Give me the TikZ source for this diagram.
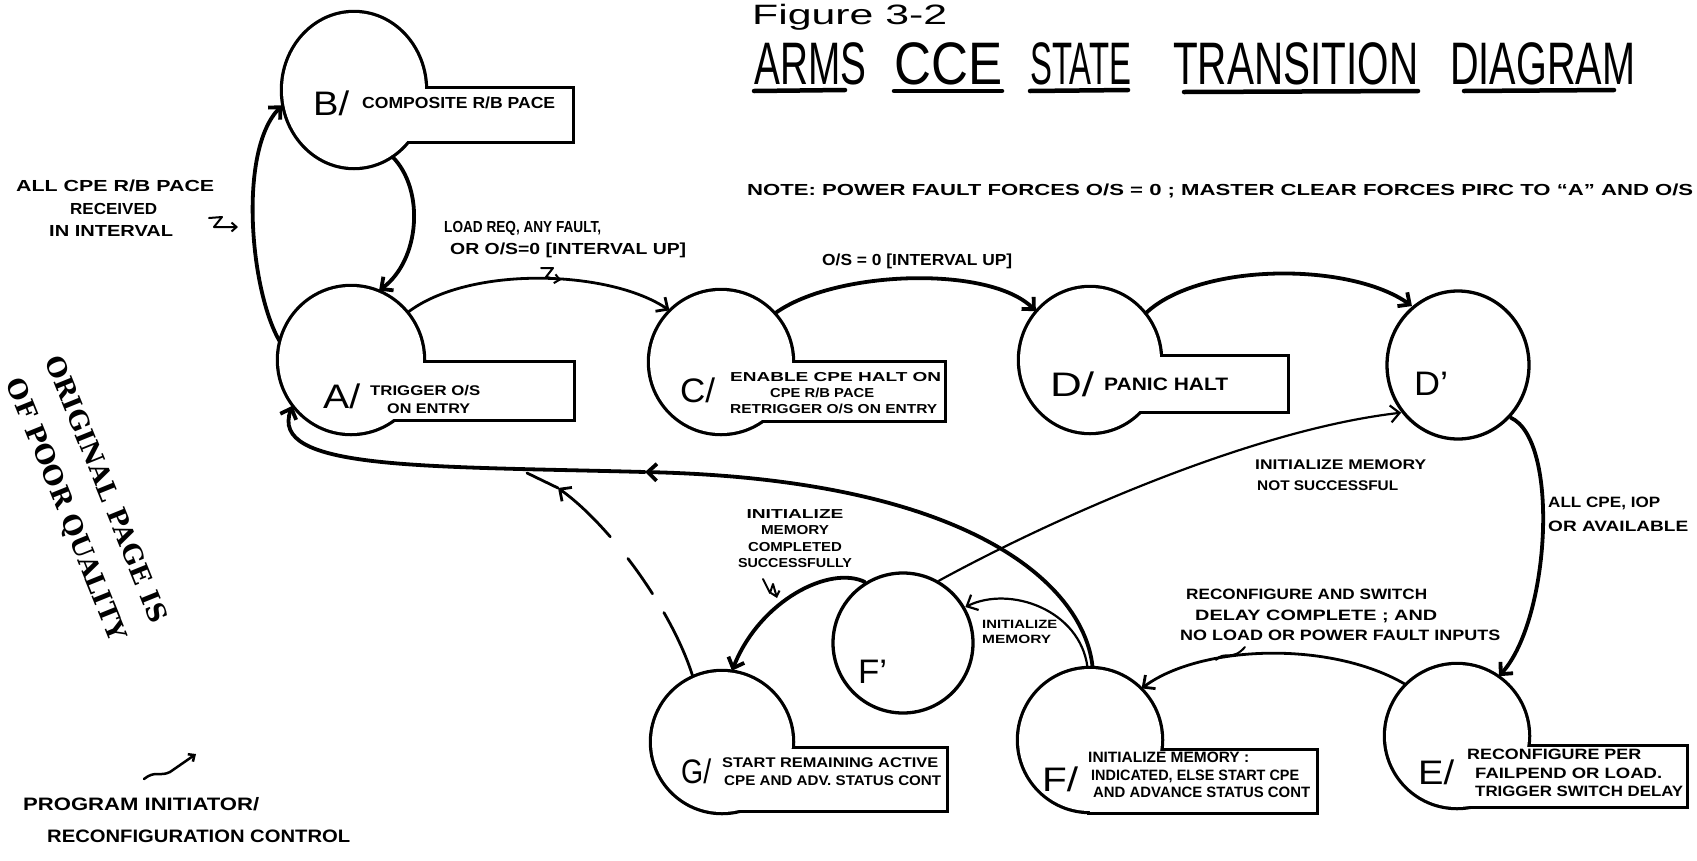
\documentclass[tikz,border=0pt]{standalone}
\usepackage{fontspec}
\setmainfont{Liberation Sans}
\newfontfamily\stampfont{DejaVu Serif}
\usetikzlibrary{arrows.meta,shapes.geometric}
\newcommand\fw[2]{\resizebox{#1pt}{\height}{#2}}
\newcommand\blob[8]{%
  \draw[outl] (#1,#2) ellipse[x radius=#3, y radius=#4];
  \draw[outl] (#5,#6) rectangle (#7,#8);
  \fill[white] (#1,#2) ellipse[x radius=#3, y radius=#4];
  \fill[white] (#5,#6) rectangle (#7,#8);}
\begin{document}
\begin{tikzpicture}[x=1pt,y=-1pt,
  st/.style={ellipse, draw=none, inner sep=0pt, outer sep=2pt},
  outl/.style={line width=6.5pt},
  arrowtip/.style={-{Straight Barb[length=9pt,width=17pt]}},
  c4/.style={line width=3.8pt, line cap=round, arrowtip},
  c3/.style={line width=2.8pt, line cap=round, arrowtip},
  c2/.style={line width=2.2pt, line cap=round, arrowtip},
  sq/.style={line width=2pt, line cap=round, line join=round, -{Straight Barb[length=5pt,width=9pt]}},
  lbl/.style={inner sep=0pt, align=left, anchor=north west},
  big/.style={inner sep=0pt, font=\fontsize{34}{34}\selectfont, anchor=west},
]
\fill[white] (0,0) rectangle (1697,860);
\useasboundingbox (0,0) rectangle (1697,860);

% ---- state shapes (circle + tab, union outline)
\blob{354}{90}{71}{77}{354}{89}{572}{141}
\blob{351}{360}{72}{73}{351}{363}{573}{419}
\blob{721}{362}{71}{71}{721}{363}{944}{420}
\blob{1090}{360}{70}{72}{1090}{357}{1287}{411}
\blob{1457}{736}{71}{71}{1457}{747}{1686}{806}
\blob{1090}{740}{71}{71}{1090}{751}{1316}{812}
\blob{722}{742}{70}{70}{722}{749}{946}{810}
\draw[line width=3.3pt] (1458,365) ellipse[x radius=71, y radius=74];
\draw[line width=3.3pt] (903,643) ellipse[x radius=70, y radius=70];

\node[st, minimum width=142pt, minimum height=154pt] (B) at (354,90) {};
\node[st, minimum width=144pt, minimum height=146pt] (A) at (351,360) {};
\node[st, minimum width=142pt, minimum height=142pt] (C) at (721,362) {};
\node[st, minimum width=140pt, minimum height=144pt] (D) at (1090,360) {};
\node[st, minimum width=142pt, minimum height=148pt] (Dp) at (1458,365) {};
\node[st, minimum width=142pt, minimum height=142pt] (E) at (1457,736) {};
\node[st, minimum width=142pt, minimum height=142pt] (F) at (1090,740) {};
\node[st, minimum width=140pt, minimum height=140pt] (G) at (722,742) {};
\node[st, minimum width=140pt, minimum height=140pt] (Fp) at (903,643) {};

% ---- connectors
\draw[c4] (A.165) .. controls (250,290) and (238,150) .. (B.192);
\draw[c4] (B.300) .. controls (425,190) and (420,260) .. (A.68);
\draw[c3] (A.40) .. controls (470,265) and (610,270) .. (C.135);
\draw[c4] (C.42) .. controls (835,270) and (990,265) .. (D.138);
\draw[c4] (D.40) .. controls (1200,262) and (1350,262) .. (Dp.128);
\draw[c4] (Dp.-45) .. controls (1560,440) and (1550,620) .. (E.55);
\draw[c3] (E.135) .. controls (1330,640) and (1200,645) .. (F.45);
\coordinate (mFA) at (645,472);
\draw[c4] (F.88) .. controls (1085,590) and (980,480) .. (mFA);
\draw[c4] (mFA) .. controls (420,466) and (268,470) .. (A.218);
\draw[c2] (F.92) .. controls (1080,610) and (1010,585) .. (Fp.30);
\draw[c2] (Fp.60) .. controls (1050,520) and (1250,430) .. (Dp.220);
\draw[c4] (Fp.122) .. controls (830,565) and (760,600) .. (G.82);
\coordinate (gArr) at (558,488);
\coordinate (gJoin) at (527,473);
\draw[c3, dash pattern=on 70pt off 22pt on 43pt off 28pt on 300pt off 1pt] (G.114) .. controls (672,610) and (610,525) .. (gArr);
\draw[line width=2.8pt, line cap=round] (gArr) -- (gJoin);

% ---- pointer squiggles
\draw[sq] (209,218) -- (222,217) -- (214,227) -- (238,227);
\draw[sq] (541,268) -- (553,268) -- (546,277) -- (561,280);
\draw[line width=2pt, line cap=round] (1216,660) .. controls (1224,650) and (1232,662) .. (1245,647);
\draw[sq] (763,579) -- (770,593) -- (773,584) -- (777,598);
\draw[sq, line width=2.5pt] (144,779) .. controls (155,770) and (160,777) .. (170,772) -- (196,754);

% ---- state texts
\node[big] (Bl) at (313,103) {\fw{36}{B/}};
\node[lbl, anchor=west, font=\bfseries\fontsize{16}{16}\selectfont] (Bt) at (362,103) {\fw{193}{COMPOSITE R/B PACE}};
\node[big] (Al) at (323,396) {\fw{37}{A/}};
\node[lbl, font=\bfseries\fontsize{14}{18}\selectfont] (At) at (370,385) {\fw{110}{TRIGGER O/S}\\\hspace*{17pt}\fw{83}{ON ENTRY}};
\node[big] (Cl) at (680,390) {\fw{35}{C/}};
\node[lbl, font=\bfseries\fontsize{13}{16}\selectfont] (Ct) at (730,372) {\fw{211}{ENABLE CPE HALT ON}\\\hspace*{40pt}\fw{104}{CPE R/B PACE}\\\fw{207}{RETRIGGER O/S ON ENTRY}};
\node[big] (Dl) at (1050,384) {\fw{44}{D/}};
\node[lbl, anchor=west, font=\bfseries\fontsize{18}{18}\selectfont] (Dt) at (1104,384) {\fw{124}{PANIC HALT}};
\node[big] (Dpl) at (1414,384) {\fw{34}{D’}};
\node[big] (El) at (1418,772) {\fw{36}{E/}};
\node[lbl, font=\bfseries\fontsize{15}{18.5}\selectfont] (Et) at (1467,749) {\fw{174}{RECONFIGURE PER}\\\hspace*{8pt}\fw{187}{FAILPEND OR LOAD.}\\\hspace*{8pt}\fw{208}{TRIGGER SWITCH DELAY}};
\node[big] (Fl) at (1042,779) {\fw{36}{F/}};
\node[lbl, font=\bfseries\fontsize{15}{17.5}\selectfont] (Ft) at (1088,752) {\fw{161}{INITIALIZE MEMORY :}\\\hspace*{3pt}\fw{208}{INDICATED, ELSE START CPE}\\\hspace*{5pt}\fw{217}{AND ADVANCE STATUS CONT}};
\node[big] (Gl) at (681,771) {\fw{30}{G/}};
\node[lbl, font=\bfseries\fontsize{14}{18}\selectfont] (Gt) at (722,758) {\fw{216}{START REMAINING ACTIVE}\\\hspace*{2pt}\fw{217}{CPE AND ADV. STATUS CONT}};
\node[big] (Fpl) at (858,672) {\fw{29}{F’}};

% ---- transition labels
\node[lbl, font=\bfseries\fontsize{16}{22.5}\selectfont] (lAB) at (16,180) {\fw{198}{ALL CPE R/B PACE}\\\hspace*{54pt}\fw{87}{RECEIVED}\\\hspace*{33pt}\fw{124}{IN INTERVAL}};
\node[lbl, font=\bfseries\fontsize{16}{22}\selectfont] (lAC) at (444,221) {\fw{157}{LOAD REQ, ANY FAULT,}\\\hspace*{6pt}\fw{236}{OR O/S=0 [INTERVAL UP]}};
\node[lbl, font=\bfseries\fontsize{16}{16}\selectfont] (lCD) at (822,254) {\fw{190}{O/S = 0 [INTERVAL UP]}};
\node[lbl, font=\bfseries\fontsize{14}{21}\selectfont] (lFpDp) at (1255,460) {\fw{171}{INITIALIZE MEMORY}\\\hspace*{2pt}\fw{141}{NOT SUCCESSFUL}};
\node[lbl, font=\bfseries\fontsize{15}{24}\selectfont] (lDpE) at (1548,497) {\fw{112}{ALL CPE, IOP}\\\fw{140}{OR AVAILABLE}};
\node[lbl, font=\bfseries\fontsize{15}{20.5}\selectfont] (lEF) at (1180,589) {\hspace*{6pt}\fw{241}{RECONFIGURE AND SWITCH}\\\hspace*{15pt}\fw{242}{DELAY COMPLETE ; AND}\\\fw{320}{NO LOAD OR POWER FAULT INPUTS}};
\node[lbl, font=\bfseries\fontsize{12}{15}\selectfont] (lFFp) at (982,620) {\fw{75}{INITIALIZE}\\\fw{69}{MEMORY}};
\node[lbl, align=center, anchor=north, font=\bfseries\fontsize{13}{16.5}\selectfont] (lFpG) at (795,509) {\fw{97}{INITIALIZE}\\\fw{68}{MEMORY}\\\fw{94}{COMPLETED}\\\fw{114}{SUCCESSFULLY}};
\node[lbl, font=\bfseries\fontsize{18}{32}\selectfont] (lPI) at (23,797) {\fw{236}{PROGRAM INITIATOR/}\\\hspace*{24pt}\fw{303}{RECONFIGURATION CONTROL}};

% ---- title and note
\node[anchor=base west, inner sep=0pt, font=\fontsize{28}{28}\selectfont] (fig) at (752,24) {\fw{195}{Figure 3-2}};
\node[anchor=base west, inner sep=0pt, font=\fontsize{60}{60}\selectfont] (t1) at (754,84) {\fw{112}{ARMS}};
\node[anchor=base west, inner sep=0pt, font=\fontsize{60}{60}\selectfont] (t2) at (894,84) {\fw{108}{CCE}};
\node[anchor=base west, inner sep=0pt, font=\fontsize{60}{60}\selectfont] (t3) at (1030,84) {\fw{101}{STATE}};
\node[anchor=base west, inner sep=0pt, font=\fontsize{60}{60}\selectfont] (t4) at (1173,84) {\fw{245}{TRANSITION}};
\node[anchor=base west, inner sep=0pt, font=\fontsize{60}{60}\selectfont] (t5) at (1450,84) {\fw{185}{DIAGRAM}};
\draw[line width=4.5pt, line cap=round] (754,91) -- (845,90);
\draw[line width=4.5pt, line cap=round] (894,91) -- (1002,91);
\draw[line width=4.5pt, line cap=round] (1030,91) -- (1128,90);
\draw[line width=4.5pt, line cap=round] (1184,92) -- (1418,91);
\draw[line width=4.5pt, line cap=round] (1464,91) -- (1614,90);
\node[anchor=base west, inner sep=0pt, font=\bfseries\fontsize{16}{16}\selectfont] (note) at (747,195) {\fw{946}{NOTE: POWER FAULT FORCES O/S = 0 ; MASTER CLEAR FORCES PIRC TO “A” AND O/S}};

% ---- stamp
\node[inner sep=0pt, rotate=-68, font=\stampfont\bfseries\fontsize{26}{26}\selectfont] (st1) at (107,489) {\fw{285}{ORIGINAL PAGE IS}};
\node[inner sep=0pt, rotate=-68, font=\stampfont\bfseries\fontsize{26}{26}\selectfont] (st2) at (65,510) {\fw{280}{OF POOR QUALITY}};
\end{tikzpicture}
\end{document}
